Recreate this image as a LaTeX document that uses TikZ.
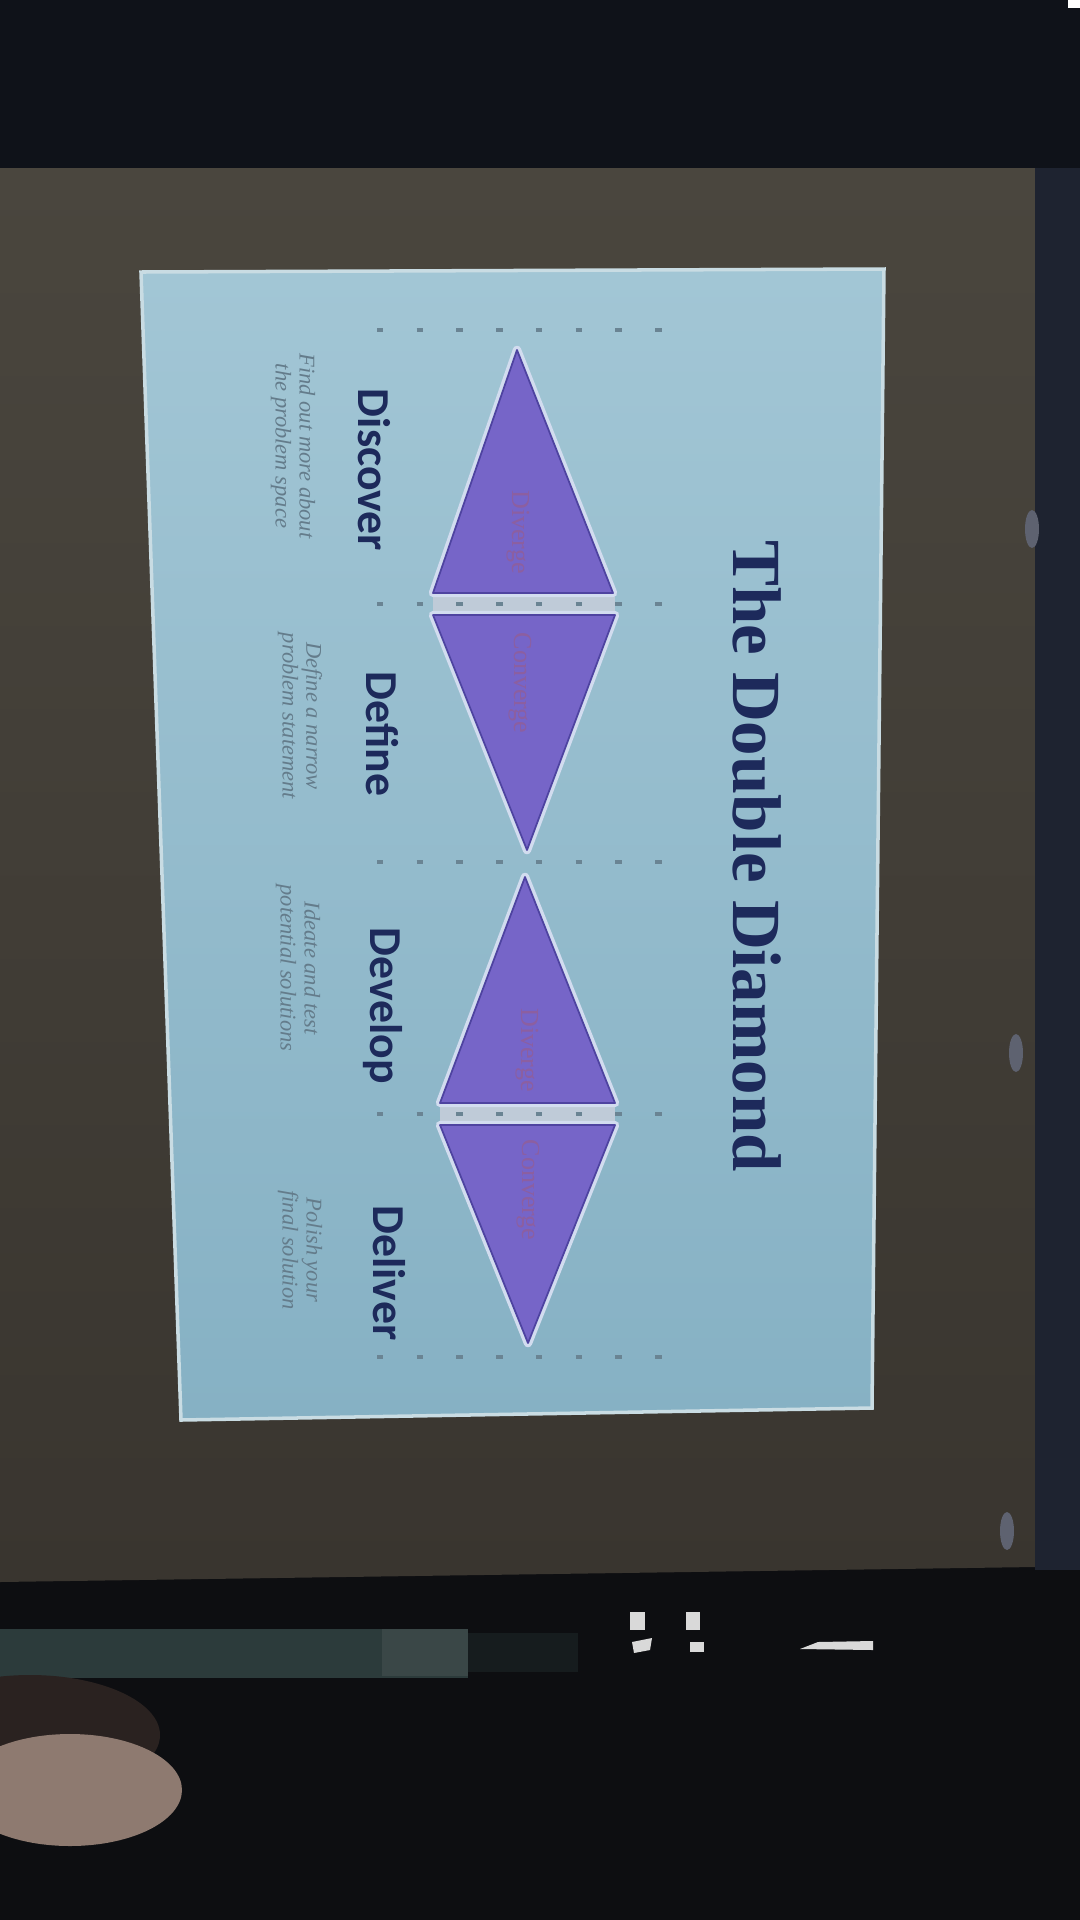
\documentclass[tikz,border=0pt]{standalone}
\usepackage{fontspec}
\usepackage{tikz}
\newfontfamily\labelfont{Carlito}
\newfontfamily\serif{Liberation Serif}
\definecolor{room}{HTML}{0D0E11}
\definecolor{ceiling}{HTML}{0F1219}
\definecolor{screentop}{HTML}{4A463E}
\definecolor{screenbot}{HTML}{39352F}
\definecolor{frame}{HTML}{1E2330}
\definecolor{screw}{HTML}{5E6270}
\definecolor{barteal}{HTML}{2C3B3B}
\definecolor{barlight}{HTML}{3A4747}
\definecolor{skin}{HTML}{8E7A70}
\definecolor{skindark}{HTML}{2A2220}
\definecolor{slidetop}{HTML}{A2C6D5}
\definecolor{slidebot}{HTML}{86B1C4}
\definecolor{slideedge}{HTML}{C9DCE3}
\definecolor{navy}{HTML}{1D2A5B}
\definecolor{notegray}{HTML}{647C8B}
\definecolor{ddfill}{HTML}{7665C8}
\definecolor{ddedge}{HTML}{4E43A0}
\definecolor{glow}{HTML}{D2DCEF}
\definecolor{gapfill}{HTML}{BFCBD8}
\definecolor{tagred}{HTML}{8C5FA0}
\definecolor{guidegray}{HTML}{6A8493}

\begin{document}
\begin{tikzpicture}[x=0.01cm, y=-0.01cm]
	\tikzstyle{phase}=[rotate=-90, anchor=base, inner sep=0pt, text=navy, font=\labelfont\bfseries\fontsize{13}{15}\selectfont]
	\tikzstyle{note}=[rotate=-90, inner sep=0pt, align=center, text=notegray, font=\serif\itshape\fontsize{6.4}{6.8}\selectfont]
	\tikzstyle{tag}=[rotate=-90, inner sep=0pt, text=tagred, font=\serif\fontsize{7.4}{8}\selectfont]
	\tikzstyle{half}=[fill=ddfill, draw=ddedge, line width=0.5pt, line join=round]
	\tikzstyle{glowline}=[draw=glow, line width=2.4pt, line join=round]
	\tikzstyle{guide}=[guidegray, line width=1pt, dash pattern=on 1.8pt off 9.5pt]
		\useasboundingbox (0,0) rectangle (1080,1920);
		
		%========================================================================
		% Room, screen and frame
		\fill[room] (0,0) rectangle (1080,1920);
		\fill[ceiling] (0,0) rectangle (1080,168);
		\fill[white] (1068,0) rectangle (1080,8);
		\shade[top color=screentop, bottom color=screenbot] (0,168) -- (1035,168) -- (1035,1567) -- (0,1582) -- cycle;
		\fill[frame] (1035,168) rectangle (1080,1570);
		\fill[screw] (1032,529) ellipse (7 and 19);
		\fill[screw] (1016,1053) ellipse (7 and 19);
		\fill[screw] (1007,1531) ellipse (7 and 19);
		
		\fill[barteal] (0,1629) rectangle (468,1678);
		\fill[barlight] (382,1629) rectangle (468,1676);
		\fill[room!70!barteal] (468,1633) rectangle (578,1672);
		\fill[white!85!black] (630,1612) rectangle (645,1630);
		\fill[white!85!black] (686,1612) rectangle (700,1630);
		\fill[white!85!black] (632,1642) -- (652,1638) -- (650,1650) -- (634,1653) -- cycle;
		\fill[white!85!black] (690,1642) rectangle (704,1652);
		\fill[white!85!black] (800,1649) -- (818,1642) -- (873,1641) -- (873,1650) -- cycle;
		
		\fill[skindark] (30,1735) ellipse (130 and 60);
		\fill[skin] (70,1790) ellipse (112 and 56);
		
		%========================================================================
		% Slide
		\shade[top color=slidetop, bottom color=slidebot, draw=slideedge, line width=1pt] (141,272) -- (884,269) -- (872,1408) -- (181,1420) -- cycle;
		
		\node[rotate=-90, anchor=base, inner sep=0pt, text=navy, font=\serif\bfseries\fontsize{19.6}{22}\selectfont] (title) at (733,856) {The Double Diamond};
		
		\node[phase] (discover) at (358,470) {Discover};
		\node[phase] (define) at (366,734) {Define};
		\node[phase] (develop) at (370,1006) {Develop};
		\node[phase] (deliver) at (373,1273) {Deliver};
		
		\node[note] (discovernote) at (293,446) {Find out more about\\the problem space};
		\node[note] (definenote) at (300,716) {Define a narrow\\problem statement};
		\node[note] (developnote) at (298,968) {Ideate and test\\potential solutions};
		\node[note] (delivernote) at (300,1250) {Polish your\\final solution};
		
		%========================================================================
		% Diamonds
		\fill[gapfill] (433,593) rectangle (615,615);
		\fill[gapfill] (440,1103) rectangle (615,1125);
		
		\path[glowline] (517,350) -- (613,593) -- (433,593) -- cycle;
		\path[glowline] (433,615) -- (615,615) -- (527,850) -- cycle;
		\path[glowline] (525,877) -- (615,1103) -- (440,1103) -- cycle;
		\path[glowline] (440,1125) -- (615,1125) -- (528,1343) -- cycle;
		
		\path[half] (517,350) -- (613,593) -- (433,593) -- cycle;
		\path[half] (433,615) -- (615,615) -- (527,850) -- cycle;
		\path[half] (525,877) -- (615,1103) -- (440,1103) -- cycle;
		\path[half] (440,1125) -- (615,1125) -- (528,1343) -- cycle;
		
		\node[tag] (diverge1) at (518,532) {Diverge};
		\node[tag] (converge1) at (520,683) {Converge};
		\node[tag] (diverge2) at (527,1050) {Diverge};
		\node[tag] (converge2) at (528,1190) {Converge};
		
		%========================================================================
		% Guides
		\draw[guide] (377,330) -- (662,330);
		\draw[guide] (377,604) -- (662,604);
		\draw[guide] (377,862) -- (662,862);
		\draw[guide] (377,1114) -- (662,1114);
		\draw[guide] (377,1357) -- (662,1357);
	\end{tikzpicture}
\end{document}
